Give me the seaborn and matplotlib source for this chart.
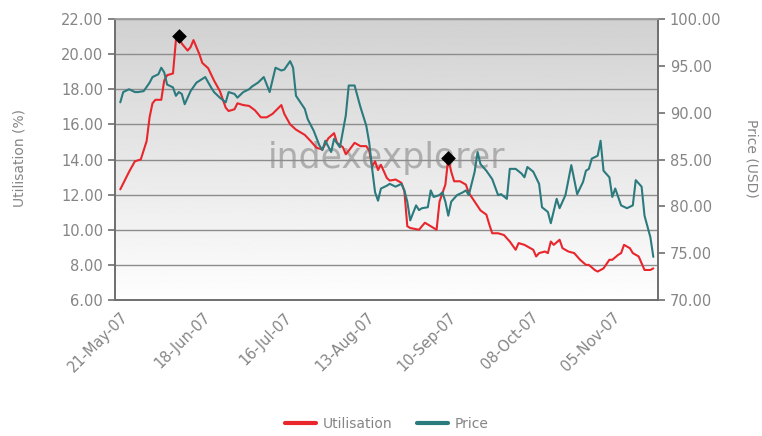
import pandas as pd
import numpy as np
import matplotlib
matplotlib.use('Agg')
import matplotlib.pyplot as plt
import matplotlib.dates as mdates
from matplotlib.lines import Line2D
import seaborn as sns

# Utilisation (%) - left axis
util_dates = ['2007-05-21', '2007-05-24', '2007-05-26', '2007-05-28', '2007-05-30', '2007-05-31',
              '2007-06-01', '2007-06-02', '2007-06-04', '2007-06-05', '2007-06-06', '2007-06-08',
              '2007-06-09', '2007-06-10', '2007-06-11', '2007-06-13', '2007-06-14', '2007-06-15',
              '2007-06-17', '2007-06-18', '2007-06-20', '2007-06-22', '2007-06-24', '2007-06-26',
              '2007-06-27', '2007-06-29', '2007-06-30', '2007-07-02', '2007-07-04', '2007-07-06',
              '2007-07-08', '2007-07-10', '2007-07-12', '2007-07-15', '2007-07-16', '2007-07-18',
              '2007-07-20', '2007-07-23', '2007-07-25', '2007-07-27', '2007-07-29', '2007-07-31',
              '2007-08-02', '2007-08-03', '2007-08-05', '2007-08-06', '2007-08-07', '2007-08-09',
              '2007-08-11', '2007-08-13', '2007-08-14', '2007-08-15', '2007-08-16', '2007-08-17',
              '2007-08-18', '2007-08-20', '2007-08-21', '2007-08-23', '2007-08-25', '2007-08-26',
              '2007-08-27', '2007-08-28', '2007-08-31', '2007-09-02', '2007-09-03', '2007-09-05',
              '2007-09-06', '2007-09-07', '2007-09-09', '2007-09-10', '2007-09-11', '2007-09-12',
              '2007-09-14', '2007-09-16', '2007-09-17', '2007-09-19', '2007-09-21', '2007-09-23',
              '2007-09-24', '2007-09-25', '2007-09-27', '2007-09-29', '2007-10-01', '2007-10-03',
              '2007-10-04', '2007-10-06', '2007-10-09', '2007-10-10', '2007-10-11', '2007-10-13',
              '2007-10-14', '2007-10-15', '2007-10-16', '2007-10-18', '2007-10-19', '2007-10-21',
              '2007-10-23', '2007-10-25', '2007-10-27', '2007-10-28', '2007-10-30', '2007-10-31',
              '2007-11-02', '2007-11-04', '2007-11-05', '2007-11-07', '2007-11-08', '2007-11-09',
              '2007-11-11', '2007-11-12', '2007-11-14', '2007-11-16', '2007-11-18', '2007-11-19']
util_values = [12.3, 13.3, 13.9, 14.0, 15.05, 16.4,
               17.2, 17.4, 17.4, 18.5, 18.8, 18.9,
               20.8, 21.05, 20.6, 20.2, 20.4, 20.8,
               20.0, 19.5, 19.2, 18.5, 17.9, 16.95,
               16.76, 16.86, 17.2, 17.1, 17.05, 16.8,
               16.4, 16.4, 16.6, 17.1, 16.6, 16.0,
               15.7, 15.4, 15.05, 14.67, 14.57, 15.2,
               15.5, 14.95, 14.7, 14.3, 14.5, 14.95,
               14.76, 14.76, 14.5, 13.6, 13.9, 13.4,
               13.7, 12.95, 12.8, 12.86, 12.67, 12.2,
               10.2, 10.1, 10.0, 10.4, 10.3, 10.1,
               10.0, 11.6, 12.57, 14.1, 13.3, 12.76,
               12.76, 12.57, 12.1, 11.6, 11.1, 10.86,
               10.3, 9.8, 9.8, 9.7, 9.33, 8.86,
               9.24, 9.14, 8.86, 8.48, 8.67, 8.76,
               8.67, 9.33, 9.14, 9.43, 8.95, 8.76,
               8.67, 8.29, 8.0, 8.0, 7.71, 7.62,
               7.8, 8.29, 8.29, 8.57, 8.67, 9.14,
               8.95, 8.67, 8.48, 7.71, 7.71, 7.8]

# Price (USD) - right axis
price_dates = ['2007-05-21', '2007-05-22', '2007-05-24', '2007-05-26', '2007-05-27', '2007-05-29',
               '2007-05-31', '2007-06-01', '2007-06-03', '2007-06-04', '2007-06-05', '2007-06-06',
               '2007-06-08', '2007-06-09', '2007-06-10', '2007-06-11', '2007-06-12', '2007-06-14',
               '2007-06-16', '2007-06-17', '2007-06-19', '2007-06-21', '2007-06-22', '2007-06-24',
               '2007-06-26', '2007-06-27', '2007-06-29', '2007-06-30', '2007-07-02', '2007-07-04',
               '2007-07-05', '2007-07-07', '2007-07-09', '2007-07-11', '2007-07-13', '2007-07-15',
               '2007-07-16', '2007-07-18', '2007-07-19', '2007-07-20', '2007-07-23', '2007-07-24',
               '2007-07-26', '2007-07-28', '2007-07-29', '2007-07-30', '2007-08-01', '2007-08-02',
               '2007-08-04', '2007-08-06', '2007-08-07', '2007-08-09', '2007-08-11', '2007-08-13',
               '2007-08-14', '2007-08-15', '2007-08-16', '2007-08-17', '2007-08-18', '2007-08-20',
               '2007-08-21', '2007-08-23', '2007-08-25', '2007-08-26', '2007-08-27', '2007-08-28',
               '2007-08-30', '2007-08-31', '2007-09-01', '2007-09-03', '2007-09-04', '2007-09-05',
               '2007-09-07', '2007-09-08', '2007-09-09', '2007-09-10', '2007-09-11', '2007-09-13',
               '2007-09-15', '2007-09-16', '2007-09-17', '2007-09-19', '2007-09-20', '2007-09-21',
               '2007-09-23', '2007-09-25', '2007-09-27', '2007-09-28', '2007-09-30', '2007-10-01',
               '2007-10-03', '2007-10-05', '2007-10-06', '2007-10-07', '2007-10-09', '2007-10-11',
               '2007-10-12', '2007-10-14', '2007-10-15', '2007-10-17', '2007-10-18', '2007-10-20',
               '2007-10-22', '2007-10-24', '2007-10-26', '2007-10-27', '2007-10-28', '2007-10-29',
               '2007-10-31', '2007-11-01', '2007-11-02', '2007-11-04', '2007-11-05', '2007-11-06',
               '2007-11-08', '2007-11-10', '2007-11-12', '2007-11-13', '2007-11-15', '2007-11-16',
               '2007-11-18', '2007-11-19']
price_values = [91.1, 92.2, 92.5, 92.2, 92.2, 92.3,
                93.2, 93.8, 94.1, 94.8, 94.3, 93.0,
                92.7, 91.8, 92.2, 92.0, 90.9, 92.3,
                93.2, 93.4, 93.8, 92.7, 92.2, 91.6,
                91.1, 92.2, 92.0, 91.6, 92.2, 92.5,
                92.8, 93.2, 93.8, 92.2, 94.8, 94.5,
                94.6, 95.5, 94.8, 91.8, 90.4, 89.3,
                88.1, 86.5, 86.0, 87.0, 85.8, 87.2,
                86.3, 89.7, 92.9, 92.9, 90.6, 88.6,
                86.8, 84.0, 81.5, 80.6, 81.9, 82.2,
                82.4, 82.1, 82.4, 81.7, 80.5, 78.5,
                80.1, 79.6, 79.8, 79.9, 81.7, 81.0,
                81.2, 81.5, 80.5, 79.0, 80.5, 81.2,
                81.5, 81.7, 81.2, 83.7, 85.8, 84.5,
                83.8, 82.9, 81.2, 81.3, 80.8, 84.0,
                84.0, 83.5, 83.1, 84.2, 83.7, 82.4,
                79.9, 79.4, 78.2, 80.8, 79.8, 81.2,
                84.4, 81.3, 82.6, 83.8, 84.0, 85.1,
                85.4, 87.0, 83.8, 83.1, 81.0, 81.9,
                80.1, 79.8, 80.1, 82.8, 82.1, 79.0,
                76.7, 74.6]

marker_dates = ['2007-06-10', '2007-09-10']
tick_dates = ['2007-05-21', '2007-06-18', '2007-07-16', '2007-08-13',
              '2007-09-10', '2007-10-08', '2007-11-05']
left_ticks = [6, 8, 10, 12, 14, 16, 18, 20, 22]
right_ticks = [70, 75, 80, 85, 90, 95, 100]

util_df = pd.DataFrame({'date': pd.to_datetime(util_dates), 'value': util_values})
price_df = pd.DataFrame({'date': pd.to_datetime(price_dates), 'value': price_values})
mark_df = util_df[util_df['date'].isin(pd.to_datetime(marker_dates))]

sns.set_style('white')
plt.rcParams['font.family'] = ['DejaVu Sans']

red = '#e8262c'
teal = '#2b7a7e'
axis_grey = '#6e6e6e'
text_grey = '#858585'

fig = plt.figure(figsize=(7.62, 4.36), dpi=100)
ax = fig.add_axes([115 / 762, 1 - 300 / 436, 543 / 762, 281 / 436])
ax2 = ax.twinx()

# grey (top) to white (bottom) background gradient
grad = np.linspace(0.995, 0.82, 256).reshape(-1, 1)
ax.imshow(grad, extent=[0, 1, 0, 1], transform=ax.transAxes, aspect='auto',
          cmap='gray', vmin=0, vmax=1, origin='lower', zorder=0)
ax.set_facecolor('none')

ax.text(0.5, 0.505, 'indexexplorer', transform=ax.transAxes, ha='center', va='center',
        fontsize=25, color='#a0a0a0', alpha=0.8, zorder=1)

sns.lineplot(data=util_df, x='date', y='value', ax=ax, color=red, lw=1.5, zorder=3)
sns.lineplot(data=price_df, x='date', y='value', ax=ax2, color=teal, lw=1.5)
sns.scatterplot(data=mark_df, x='date', y='value', ax=ax, marker='D', s=48,
                color='black', edgecolor='black', zorder=4)

x0 = pd.Timestamp('2007-05-21')
ax.set_xlim(x0 - pd.Timedelta(days=1.8), x0 + pd.Timedelta(days=183.6))
ax.set_ylim(6, 22)
ax2.set_ylim(70, 100)
ax.set_yticks(left_ticks)
ax2.set_yticks(right_ticks)
ax.yaxis.set_major_formatter(plt.FormatStrFormatter('%.2f'))
ax2.yaxis.set_major_formatter(plt.FormatStrFormatter('%.2f'))
ax.set_xticks(pd.to_datetime(tick_dates))
ax.xaxis.set_major_formatter(mdates.DateFormatter('%d-%b-%y'))

ax.grid(axis='y', color='#8c8c8c', lw=1.0, zorder=2)
ax.set_axisbelow(False)
ax2.grid(False)
for a in (ax, ax2):
    a.set_xlabel('')
    a.set_ylabel('')
    for s in a.spines.values():
        s.set_color(axis_grey)
        s.set_linewidth(1.2)
    a.tick_params(colors=axis_grey, labelcolor=text_grey, length=5, width=1.2,
                  direction='out', labelsize=10.5)
ax.tick_params(axis='x', pad=2)
ax.spines['top'].set_color('#a0a0a0')
ax2.spines['top'].set_color('#a0a0a0')
for lbl in ax.get_xticklabels():
    lbl.set_rotation(45)
    lbl.set_ha('right')
    lbl.set_rotation_mode('anchor')

fig.text(20 / 762, 1 - 158 / 436, 'Utilisation (%)', rotation=90, ha='center', va='center',
         fontsize=10, color=text_grey)
fig.text(752 / 762, 1 - 158 / 436, 'Price (USD)', rotation=270, ha='center', va='center',
         fontsize=10, color=text_grey)

handles = [Line2D([], [], color=red, lw=3), Line2D([], [], color=teal, lw=3)]
fig.legend(handles, ['Utilisation', 'Price'], loc='center', bbox_to_anchor=(387 / 762, 1 - 424 / 436),
           ncol=2, frameon=False, fontsize=10, labelcolor=text_grey, handlelength=2.2,
           handletextpad=0.5, columnspacing=1.8)

fig.savefig('out.png', dpi=100)
